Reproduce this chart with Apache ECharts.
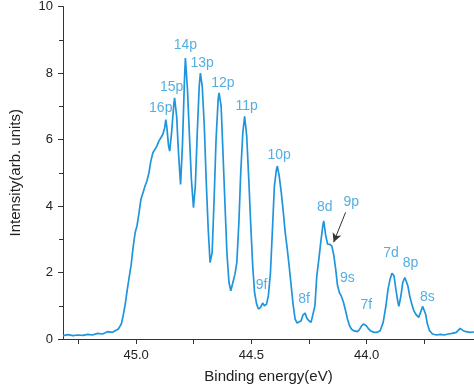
<!DOCTYPE html>
<html><head><meta charset="utf-8">
<script src="https://cdn.jsdelivr.net/npm/echarts@6/dist/echarts.min.js"></script>
<style>html,body{margin:0;padding:0;background:#fff}#c{width:474px;height:389px}</style>
</head><body><div id="c"></div>
<script>
var energy = [45.317,45.296,45.274,45.253,45.231,45.210,45.189,45.167,45.146,45.124,45.103,45.090,45.077,45.064,45.056,45.047,45.039,45.030,45.021,45.013,45.004,44.996,44.987,44.979,44.970,44.961,44.953,44.944,44.936,44.927,44.919,44.910,44.901,44.893,44.884,44.876,44.871,44.867,44.859,44.854,44.846,44.837,44.833,44.824,44.816,44.807,44.799,44.790,44.786,44.777,44.769,44.760,44.751,44.743,44.734,44.726,44.721,44.713,44.704,44.696,44.687,44.679,44.670,44.661,44.653,44.644,44.640,44.631,44.623,44.614,44.606,44.597,44.589,44.580,44.571,44.563,44.554,44.546,44.537,44.529,44.520,44.511,44.503,44.494,44.486,44.477,44.469,44.460,44.451,44.443,44.434,44.426,44.417,44.409,44.400,44.391,44.387,44.379,44.370,44.361,44.353,44.344,44.336,44.327,44.319,44.310,44.301,44.293,44.284,44.276,44.267,44.259,44.250,44.241,44.233,44.224,44.216,44.207,44.199,44.190,44.186,44.177,44.169,44.160,44.151,44.143,44.134,44.126,44.117,44.109,44.100,44.091,44.083,44.074,44.066,44.057,44.049,44.040,44.031,44.023,44.014,44.010,44.001,43.993,43.984,43.976,43.967,43.954,43.941,43.928,43.916,43.907,43.898,43.890,43.881,43.873,43.864,43.860,43.851,43.843,43.834,43.830,43.821,43.813,43.804,43.796,43.787,43.774,43.766,43.757,43.753,43.744,43.736,43.727,43.714,43.697,43.680,43.663,43.646,43.629,43.611,43.594,43.581,43.568,43.551,43.534];
var intensity = [0.10,0.13,0.10,0.12,0.11,0.14,0.12,0.17,0.15,0.22,0.20,0.25,0.30,0.45,0.70,1.05,1.45,1.85,2.25,2.75,3.20,3.40,3.80,4.20,4.40,4.60,4.75,5.00,5.35,5.60,5.55,5.80,5.95,6.00,6.15,6.35,6.60,6.40,5.80,5.65,6.20,7.00,7.25,6.70,5.60,4.65,5.80,7.80,8.45,7.50,6.20,4.80,3.95,4.60,6.30,7.60,8.00,7.60,6.40,4.80,3.30,2.30,2.60,4.30,6.00,7.20,7.40,7.00,5.60,4.00,2.60,1.70,1.45,1.70,1.95,2.30,3.50,5.00,6.20,6.70,6.10,4.80,3.50,2.20,1.40,1.05,0.90,0.95,1.08,1.00,1.05,1.30,2.00,3.20,4.60,5.10,5.20,4.90,4.40,3.80,3.20,2.70,2.20,1.60,1.05,0.60,0.48,0.47,0.55,0.72,0.78,0.62,0.55,0.50,0.55,1.00,1.90,2.40,2.90,3.40,3.55,3.10,2.85,2.85,2.80,2.55,2.10,1.60,1.38,1.28,1.10,0.85,0.60,0.40,0.30,0.25,0.22,0.22,0.28,0.38,0.45,0.50,0.40,0.32,0.25,0.22,0.20,0.20,0.25,0.50,1.00,1.50,1.80,1.98,1.90,1.50,1.10,0.98,1.30,1.70,1.85,1.87,1.60,1.30,1.05,0.87,0.75,0.65,0.80,0.98,1.00,0.75,0.45,0.25,0.15,0.12,0.14,0.12,0.15,0.17,0.20,0.32,0.25,0.22,0.20,0.21];

var peakNames = ['16p','15p','14p','13p','12p','11p','10p','9f','8f','8d','9p','9s','7f','7d','8p','8s'];
var peakLabelE = [44.893,44.846,44.786,44.713,44.623,44.520,44.379,44.456,44.271,44.181,44.066,44.083,44.001,43.894,43.809,43.736];
var peakLabelI = [6.94,7.57,8.83,8.29,7.69,7.00,5.53,1.62,1.20,3.96,4.11,1.83,1.02,2.58,2.28,1.26];
var arrowFrom = [44.091, 3.81];
var arrowTo = [44.143, 2.91];

var xTicks = [43.75, 44.0, 44.25, 44.5, 44.75, 45.0, 45.25];
var xLabels = [44.0, 44.5, 45.0];
var xMin = 43.534, xMax = 45.317;
var yMin = 0, yMax = 10, yStep = 2;

var lineColor = '#1f95dc';
var textColor = '#2a9ad9';

var curve = energy.map(function (e, i) { return [e, intensity[i]]; });
var labels = peakNames.map(function (n, i) { return { name: n, value: [peakLabelE[i], peakLabelI[i]] }; });

var chart = echarts.init(document.getElementById('c'), null, { renderer: 'canvas' });
chart.setOption({
  animation: false,
  backgroundColor: '#fff',
  grid: { left: 58, right: 0, top: 6, bottom: 50, containLabel: false },
  xAxis: {
    type: 'value', inverse: true, min: xMin, max: xMax,
    name: 'Binding energy(eV)', nameLocation: 'middle', nameGap: 30,
    nameTextStyle: { fontFamily: 'Liberation Sans', fontSize: 15, color: '#222' },
    axisLine: { show: true, lineStyle: { color: '#333', width: 1 } },
    axisTick: { show: true, inside: false, length: 5, customValues: xTicks, lineStyle: { color: '#333' } },
    axisLabel: { customValues: xLabels, formatter: function (v) { return Number(v).toFixed(1); },
      fontFamily: 'Liberation Sans', fontSize: 13, color: '#222', margin: 10 },
    splitLine: { show: false }
  },
  yAxis: {
    type: 'value', min: yMin, max: yMax, interval: yStep,
    name: 'Intensity(arb. units)', nameLocation: 'middle', nameGap: 40,
    nameTextStyle: { fontFamily: 'Liberation Sans', fontSize: 15, color: '#222' },
    axisLine: { show: true, lineStyle: { color: '#333', width: 1 } },
    axisTick: { show: true, inside: false, length: 5, lineStyle: { color: '#333' } },
    minorTick: { show: true, splitNumber: 2, length: 4, lineStyle: { color: '#333' } },
    axisLabel: { fontFamily: 'Liberation Sans', fontSize: 13, color: '#222', margin: 10 },
    splitLine: { show: false }
  },
  series: [
    {
      type: 'line', data: curve, showSymbol: false, symbol: 'none',
      lineStyle: { color: lineColor, width: 1.7 }, z: 3
    },
    {
      type: 'scatter', data: labels, symbolSize: 0, silent: true,
      label: { show: true, position: 'inside', formatter: '{b}', color: textColor,
        fontFamily: 'Liberation Sans', fontSize: 14 },
      markLine: {
        silent: true, symbol: ['none', 'arrow'], symbolSize: [7, 9], label: { show: false },
        lineStyle: { color: '#333', width: 1, type: 'solid' },
        data: [[{ coord: arrowFrom }, { coord: arrowTo }]]
      },
      z: 4
    }
  ]
});
</script></body></html>
